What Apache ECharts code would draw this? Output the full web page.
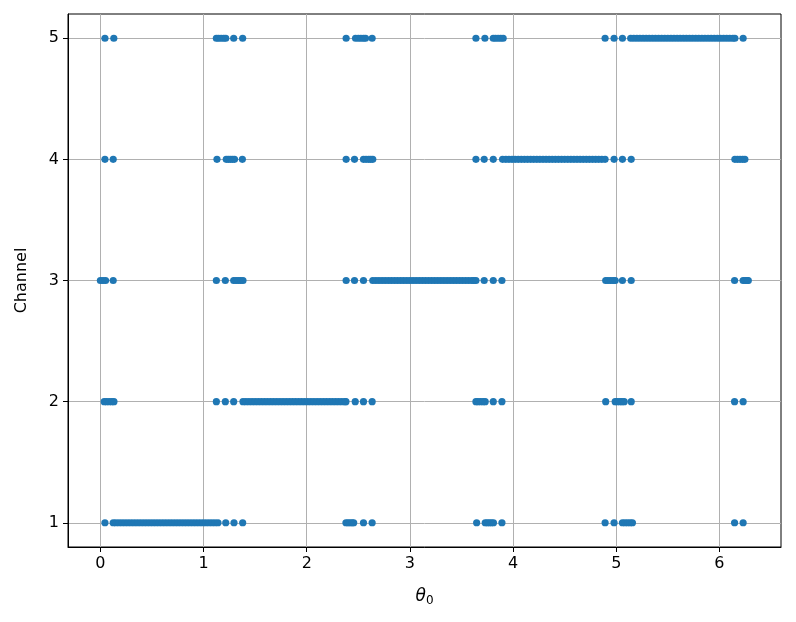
<!DOCTYPE html>
<html>
<head>
<meta charset="utf-8">
<script src="https://cdn.jsdelivr.net/npm/echarts@6/dist/echarts.min.js"></script>
<style>html,body{margin:0;padding:0;background:#fff}#c{width:796px;height:622px}</style>
</head>
<body>
<div id="c"></div>
<script>
// theta_0 values (x) of points per channel
const ch1 = [0.044,
  0.124,0.15,0.18,0.21,0.24,0.27,0.30,0.33,0.36,0.39,0.42,0.45,0.48,0.51,0.54,0.57,0.60,0.63,0.66,0.69,0.72,0.75,0.78,0.81,0.84,0.87,0.90,0.93,0.96,0.99,1.02,1.05,1.08,1.11,1.14,
  1.215,1.295,1.379,
  2.38,2.40,2.42,2.44,2.455,2.55,2.634,
  3.647,3.73,3.75,3.77,3.79,3.81,3.892,
  4.892,4.979,5.06,5.085,5.11,5.135,5.157,
  6.147,6.23];
const ch2 = [0.037,0.06,0.085,0.11,0.131,
  1.124,1.211,1.292,
  1.382,1.41,1.44,1.47,1.50,1.53,1.56,1.59,1.62,1.65,1.68,1.71,1.74,1.77,1.80,1.83,1.86,1.89,1.92,1.95,1.98,2.01,2.04,2.07,2.10,2.13,2.16,2.19,2.22,2.25,2.28,2.31,2.34,2.37,2.38,
  2.47,2.55,2.634,
  3.64,3.66,3.685,3.71,3.73,3.808,3.892,
  4.898,4.99,5.01,5.035,5.055,5.077,5.145,
  6.147,6.23];
const ch3 = [0.0,0.025,0.05,0.124,
  1.124,1.211,1.292,1.315,1.337,1.36,1.382,
  2.382,2.463,2.55,
  2.64,2.67,2.70,2.73,2.76,2.79,2.82,2.85,2.88,2.91,2.94,2.97,3.00,3.03,3.06,3.09,3.12,3.15,3.18,3.21,3.24,3.27,3.30,3.33,3.36,3.39,3.42,3.45,3.48,3.51,3.54,3.57,3.60,3.62,3.64,
  3.72,3.808,3.892,
  4.898,4.92,4.945,4.97,4.99,5.06,5.145,
  6.147,6.23,6.25,6.27,6.28];
const ch4 = [0.044,0.124,
  1.13,1.22,1.24,1.26,1.28,1.30,1.376,
  2.382,2.463,2.55,2.575,2.6,2.62,2.64,
  3.64,3.72,3.808,
  3.898,3.93,3.96,3.99,4.02,4.05,4.08,4.11,4.14,4.17,4.20,4.23,4.26,4.29,4.32,4.35,4.38,4.41,4.44,4.47,4.50,4.53,4.56,4.59,4.62,4.65,4.68,4.71,4.74,4.77,4.80,4.83,4.86,4.892,
  4.979,5.06,5.145,
  6.15,6.175,6.2,6.225,6.247];
const ch5 = [0.044,0.13,
  1.124,1.145,1.17,1.195,1.215,1.292,1.379,
  2.382,2.473,2.5,2.525,2.55,2.57,2.634,
  3.64,3.727,3.808,3.83,3.855,3.88,3.904,
  4.892,4.979,5.06,
  5.14,5.17,5.20,5.23,5.26,5.29,5.32,5.35,5.38,5.41,5.44,5.47,5.50,5.53,5.56,5.59,5.62,5.65,5.68,5.71,5.74,5.77,5.80,5.83,5.86,5.89,5.92,5.95,5.98,6.01,6.04,6.07,6.10,6.13,6.15,
  6.23];
const channels = [1,2,3,4,5];
const xTicks = [0,1,2,3,4,5,6];
const yTicks = [1,2,3,4,5];

const all = [ch1,ch2,ch3,ch4,ch5];
const data = [];
all.forEach((arr,i)=>arr.forEach(x=>data.push([x, channels[i]])));

const font = 'DejaVu Sans';
const chart = echarts.init(document.getElementById('c'), null, {renderer:'canvas'});
chart.setOption({
  animation:false,
  backgroundColor:'#fff',
  grid:{left:68,right:15,top:14,bottom:75,show:true,borderColor:'#000',borderWidth:1,backgroundColor:'transparent',containLabel:false},
  xAxis:{
    type:'value', min:-0.314, max:6.597, splitNumber:7,
    name:'{a|θ}{b|0}', nameLocation:'middle', nameGap:40,
    nameTextStyle:{rich:{a:{fontFamily:font,fontStyle:'italic',fontSize:17,color:'#000'},b:{fontFamily:font,fontSize:12,color:'#000',verticalAlign:'bottom',padding:[8,0,0,0]}}},
    axisLine:{show:true,onZero:false,lineStyle:{color:'#000',width:1}},
    axisTick:{show:true,length:5,lineStyle:{color:'#000',width:1},customValues:xTicks},
    axisLabel:{color:'#000',fontFamily:font,fontSize:16,margin:9,customValues:xTicks},
    splitLine:{show:true,lineStyle:{color:'#b0b0b0',width:1}}
  },
  yAxis:{
    type:'value', min:0.8, max:5.2,
    name:'Channel', nameLocation:'middle', nameGap:38,
    nameTextStyle:{fontFamily:font,fontSize:16,color:'#000'},
    axisLine:{show:true,onZero:false,lineStyle:{color:'#000',width:1}},
    axisTick:{show:true,length:5,lineStyle:{color:'#000',width:1},customValues:yTicks},
    axisLabel:{color:'#000',fontFamily:font,fontSize:16,margin:9,customValues:yTicks},
    splitLine:{show:true,lineStyle:{color:'#b0b0b0',width:1}}
  },
  series:[{type:'scatter',data:data,symbol:'circle',symbolSize:7.2,itemStyle:{color:'#1f77b4',opacity:1}}]
});
</script>
</body>
</html>
